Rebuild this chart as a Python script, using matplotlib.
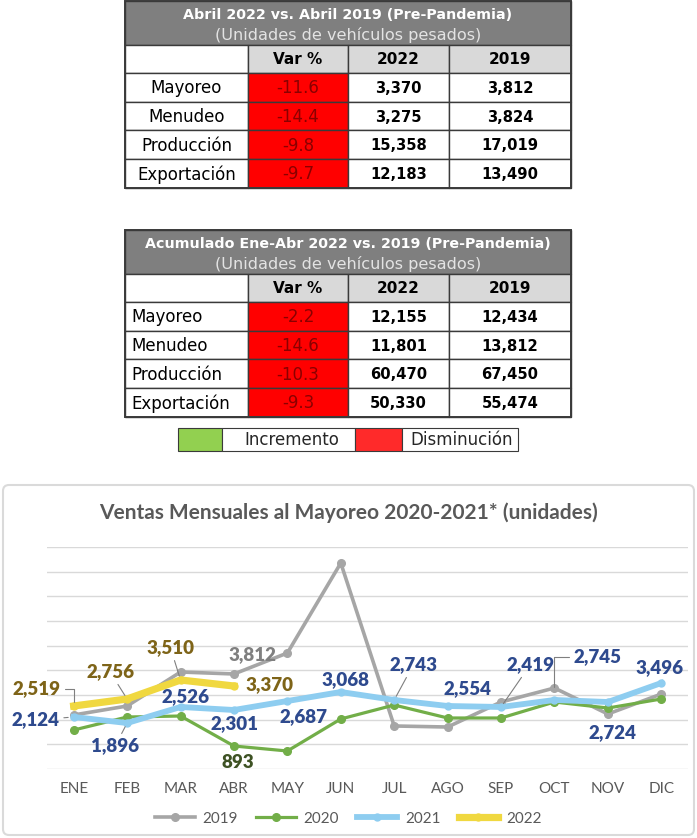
import matplotlib.pyplot as plt
from matplotlib.patches import Rectangle, FancyBboxPatch

W, H = 697, 838

# ---- tablas ----
titulo_t1 = 'Abril 2022 vs. Abril 2019 (Pre-Pandemia)'
titulo_t2 = 'Acumulado Ene-Abr 2022 vs. 2019 (Pre-Pandemia)'
subtitulo = '(Unidades de vehículos pesados)'
encabezados = ['Var %', '2022', '2019']
indicadores = ['Mayoreo', 'Menudeo', 'Producción', 'Exportación']
t1_var = ['-11.6', '-14.4', '-9.8', '-9.7']
t1_2022 = ['3,370', '3,275', '15,358', '12,183']
t1_2019 = ['3,812', '3,824', '17,019', '13,490']
t2_var = ['-2.2', '-14.6', '-10.3', '-9.3']
t2_2022 = ['12,155', '11,801', '60,470', '50,330']
t2_2019 = ['12,434', '13,812', '67,450', '55,474']
leyenda_tabla = ['Incremento', 'Disminución']

# ---- grafica ----
titulo_graf = 'Ventas Mensuales al Mayoreo 2020-2021* (unidades)'
meses = ['ENE', 'FEB', 'MAR', 'ABR', 'MAY', 'JUN', 'JUL', 'AGO', 'SEP', 'OCT', 'NOV', 'DIC']
# altura de cada punto en la grafica (escala interna del grafico)
v2019 = [1095, 1277, 1966, 1926, 2351, 4175, 872, 851, 1358, 1642, 1115, 1520]
v2020 = [790, 1054, 1074, 466, 365, 1014, 1297, 1034, 1034, 1358, 1236, 1419]
v2021 = [1054, 932, 1257, 1196, 1378, 1561, 1399, 1277, 1257, 1399, 1358, 1743]
v2022 = [1277, 1419, 1804, 1682]
# etiquetas que muestra la grafica
et2021 = ['2,124', '1,896', '2,526', '2,301', '2,687', '3,068', '2,743', '2,554', '2,419', '2,745', '2,724', '3,496']
et2022 = ['2,519', '2,756', '3,510', '3,370']
et2019_abr = '3,812'
et2020_abr = '893'

GRIS = '#A6A6A6'
VERDE = '#72AE48'
AZUL = '#8ECDF0'
AMARILLO = '#F0D840'
NAVY = '#2E4A8E'
ORO = '#7E6418'
BORDE = '#3A3A3A'

fig = plt.figure(figsize=(W / 100, H / 100), dpi=100)
bg = fig.add_axes([0, 0, 1, 1])
bg.set_xlim(0, W)
bg.set_ylim(H, 0)
bg.axis('off')

FT = 'DejaVu Sans'
xs = [125, 248, 348, 449, 571]


def tabla(top, titulo, var, c2022, c2019, alinear):
    hdr = 44
    ch = 28
    rh = 28.7
    bg.add_patch(Rectangle((xs[0], top), xs[-1] - xs[0], hdr, fc='#7F7F7F', ec=BORDE, lw=1))
    bg.text((xs[0] + xs[-1]) / 2, top + 14, titulo, color='white', fontsize=10.3,
            fontweight='bold', ha='center', va='center', family=FT)
    bg.text((xs[0] + xs[-1]) / 2, top + 34, subtitulo, color='#E3E3E3', fontsize=11.6,
            ha='center', va='center', family=FT)
    y = top + hdr
    for j in range(4):
        fc = 'white' if j == 0 else '#D9D9D9'
        bg.add_patch(Rectangle((xs[j], y), xs[j + 1] - xs[j], ch, fc=fc, ec=BORDE, lw=1))
        if j > 0:
            bg.text((xs[j] + xs[j + 1]) / 2, y + ch / 2, encabezados[j - 1], fontsize=11,
                    fontweight='bold', ha='center', va='center', family=FT)
    y += ch
    for i, nombre in enumerate(indicadores):
        vals = [nombre, var[i], c2022[i], c2019[i]]
        for j in range(4):
            fc = '#FF0000' if j == 1 else 'white'
            bg.add_patch(Rectangle((xs[j], y), xs[j + 1] - xs[j], rh, fc=fc, ec=BORDE, lw=1))
            if j == 0:
                if alinear == 'center':
                    bg.text((xs[0] + xs[1]) / 2, y + rh / 2 + 1, vals[0], fontsize=12,
                            ha='center', va='center', family=FT)
                else:
                    bg.text(xs[0] + 6, y + rh / 2 + 1, vals[0], fontsize=12,
                            ha='left', va='center', family=FT)
            elif j == 1:
                bg.text((xs[1] + xs[2]) / 2, y + rh / 2 + 1, vals[1], fontsize=12,
                        color='#8A0000', ha='center', va='center', family=FT)
            else:
                bg.text((xs[j] + xs[j + 1]) / 2, y + rh / 2 + 1, vals[j], fontsize=10.6,
                        fontweight='semibold', ha='center', va='center', family=FT)
        y += rh
    bg.add_patch(Rectangle((xs[0], top), xs[-1] - xs[0], y - top, fc='none', ec=BORDE, lw=1.4))


tabla(1, titulo_t1, t1_var, t1_2022, t1_2019, 'center')
tabla(230, titulo_t2, t2_var, t2_2022, t2_2019, 'left')

# leyenda de colores
bg.add_patch(Rectangle((178, 428), 44, 23, fc='#92D050', ec=BORDE, lw=0.8))
bg.add_patch(Rectangle((222, 428), 133, 23, fc='white', ec=BORDE, lw=0.8))
bg.add_patch(Rectangle((355, 428), 47, 23, fc='#FF2A2A', ec=BORDE, lw=0.8))
bg.add_patch(Rectangle((402, 428), 116, 23, fc='white', ec=BORDE, lw=0.8))
bg.text(292, 440, leyenda_tabla[0], fontsize=12, ha='center', va='center', family=FT, color='#262626')
bg.text(462, 440, leyenda_tabla[1], fontsize=12, ha='center', va='center', family=FT, color='#262626')

# marco de la grafica
bg.add_patch(FancyBboxPatch((3, 485), 691, 350, boxstyle='round,pad=0,rounding_size=6',
                            fc='white', ec='#DADADA', lw=1.5))
bg.text(348, 513, titulo_graf, fontsize=15, fontweight='bold', color='#595959',
        ha='center', va='center', family='Lato')

# ---- grafica de lineas ----
ax = fig.add_axes([47 / W, 1 - 769 / H, 641 / W, 222 / H])
ax.patch.set_alpha(0)
ax.set_xlim(-0.5, 11.5)
ax.set_ylim(0, 4500)
ax.set_yticks(range(0, 4501, 500))
ax.set_yticklabels([])
ax.grid(axis='y', color='#D9D9D9', lw=1)
ax.set_axisbelow(True)
for s in ax.spines.values():
    s.set_visible(False)
ax.tick_params(length=0, pad=9)
ax.set_xticks(range(12))
ax.set_xticklabels(meses, fontsize=11, color='#595959', family='Lato')

x = list(range(12))
ax.plot(x, v2019, color=GRIS, lw=2.6, marker='o', ms=5.5, label='2019', solid_joinstyle='round')
ax.plot(x, v2020, color=VERDE, lw=2.3, marker='o', ms=5.5, label='2020', solid_joinstyle='round')
ax.plot(x, v2021, color=AZUL, lw=4.2, marker='o', ms=5, label='2021', solid_joinstyle='round')
ax.plot(x[:4], v2022, color=AMARILLO, lw=5.2, marker='o', ms=5, label='2022', solid_joinstyle='round')

fk = dict(fontsize=13.5, fontweight='heavy', family='Lato', ha='center', va='center',
          textcoords='offset pixels')
lider = dict(arrowstyle='-', color='#7F7F7F', lw=0.8, shrinkA=1, shrinkB=3)

# desplazamientos (px) de cada etiqueta respecto a su punto
off2021 = [(-38, -3), (-12, -23), (5, 10), (1, -14), (16, -16), (5, 12),
           (19, 35), (20, 17), (29, 42), (43, 43), (5, -31), (-2, 15)]
lid2021 = {0: dict(lider, shrinkB=4), 1: lider, 6: lider, 8: lider,
           9: dict(lider, connectionstyle='angle,angleA=0,angleB=90,rad=0', shrinkB=9)}
for i, t in enumerate(et2021):
    ap = lid2021.get(i)
    ax.annotate(t, (i, v2021[i]), xytext=off2021[i], color=NAVY, arrowprops=ap, **fk)

off2022 = [(-37, 17), (-17, 27), (-10, 32), (36, 1)]
lid2022 = {0: dict(lider, connectionstyle='angle,angleA=0,angleB=90,rad=0'), 1: lider, 2: lider}
for i, t in enumerate(et2022):
    ax.annotate(t, (i, v2022[i]), xytext=off2022[i], color=ORO, arrowprops=lid2022.get(i), **fk)

ax.annotate(et2019_abr, (3, v2019[3]), xytext=(19, 19), color='#808080', **fk)
ax.annotate(et2020_abr, (3, v2020[3]), xytext=(4, -16), color='#3E5224', **fk)

ax.legend(loc='upper center', bbox_to_anchor=(0.47, -0.13), ncol=4, frameon=False,
          handlelength=2.6, columnspacing=1.2, handletextpad=0.5,
          prop={'family': 'Lato', 'size': 11}, labelcolor='#595959')

fig.savefig('out.png', dpi=100)
